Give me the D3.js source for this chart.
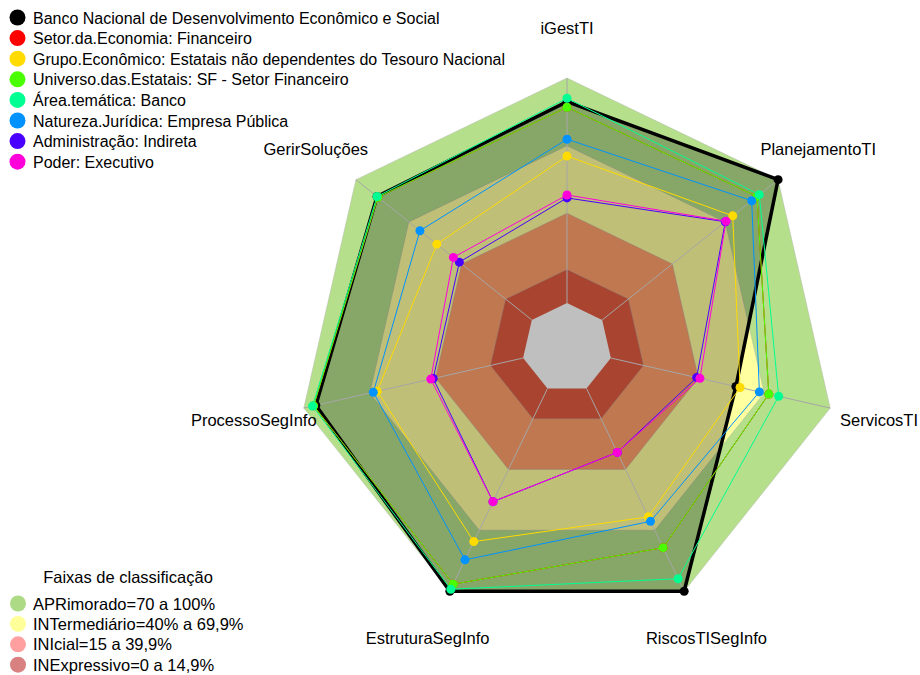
<!DOCTYPE html>
<html>
<head>
<meta charset="utf-8">
<script src="https://cdn.jsdelivr.net/npm/d3@7"></script>
<style>
  body { margin: 0; background: #fff; }
  text { font-family: "Liberation Sans", Arial, sans-serif; }
</style>
</head>
<body>
<div id="chart"></div>
<script>
const axes = ["iGestTI", "PlanejamentoTI", "ServicosTI", "RiscosTISegInfo", "EstruturaSegInfo", "ProcessoSegInfo", "GerirSoluções"];

const seriesNames = [
  "Banco Nacional de Desenvolvimento Econômico e Social",
  "Setor.da.Economia: Financeiro",
  "Grupo.Econômico: Estatais não dependentes do Tesouro Nacional",
  "Universo.das.Estatais: SF - Setor Financeiro",
  "Área.temática: Banco",
  "Natureza.Jurídica: Empresa Pública",
  "Administração: Indireta",
  "Poder: Executivo"
];
const seriesColors = ["#000000", "#FF0000", "#FFDB00", "#49FF00", "#00FF92", "#0092FF", "#4900FF", "#FF00DB"];

const bndes     = [89.5, 100, 57, 100, 100, 94.5, 88];
const setor     = [87, 88, 72, 78.5, 96.5, 95.5, 87.5];
const grupo     = [65.3, 74.2, 58.9, 63.3, 75.5, 66.5, 54];
const universo  = [87, 88, 72, 78.5, 96.5, 95.5, 87.5];
const area      = [91, 89.3, 76.5, 93.8, 99, 96, 88];
const natureza  = [72.8, 85, 67.7, 65.5, 84.5, 68.3, 63.6];
const admin     = [46.7, 70, 39.1, 31.5, 55.8, 41, 41.2];
const poder     = [48, 70.4, 40.6, 31.5, 55.8, 42.1, 44.6];
const seriesValues = [bndes, setor, grupo, universo, area, natureza, admin, poder];

// faixas de classificação
const bandNames = ["APRimorado=70 a 100%", "INTermediário=40% a 69,9%", "INIcial=15 a 39,9%", "INExpressivo=0 a 14,9%"];
const bandUpper = [100, 69.9, 39.9, 14.9];
const bandFill = ["#b5df8b", "#ffffa0", "#ffa06b", "#e05b40"];
const bandLegend = ["#addb85", "#ffff99", "#ff9f9f", "#d98080"];

const W = 920, H = 675;
const cx = 567, cy = 348, R = 270;

const svg = d3.select("#chart").append("svg")
  .attr("width", W).attr("height", H);

const r = d3.scaleLinear().domain([0, 100]).range([R / 6, R]);
const ang = d3.scaleLinear().domain([0, axes.length]).range([0, 2 * Math.PI]);

function pt(v, i) {
  const a = ang(i);
  return [cx + r(v) * Math.sin(a), cy - r(v) * Math.cos(a)];
}
const poly = d3.line().curve(d3.curveLinearClosed);

// bands
bandUpper.forEach((u, k) => {
  svg.append("path")
    .attr("d", poly(axes.map((d, i) => pt(u, i))))
    .attr("fill", bandFill[k])
    .attr("stroke", "#b0b0b0")
    .attr("stroke-opacity", 0.5)
    .attr("stroke-width", 0.8);
});
svg.append("path")
  .attr("d", poly(axes.map((d, i) => pt(0, i))))
  .attr("fill", "#ffffff");

// shaded area of first series
svg.append("path")
  .attr("d", poly(bndes.map((v, i) => pt(v, i))))
  .attr("fill", "rgba(0,0,0,0.25)")
  .attr("stroke", "none");

// axis lines
svg.append("g").selectAll("line")
  .data(axes)
  .enter()
  .append("line")
  .attr("x1", (d, i) => pt(0, i)[0])
  .attr("y1", (d, i) => pt(0, i)[1])
  .attr("x2", (d, i) => pt(100, i)[0])
  .attr("y2", (d, i) => pt(100, i)[1])
  .attr("stroke", "#a6a6a6")
  .attr("stroke-width", 1);

// axis labels
svg.append("g").selectAll("text")
  .data(axes)
  .enter()
  .append("text")
  .attr("x", (d, i) => cx + R * 1.19 * Math.sin(ang(i)))
  .attr("y", (d, i) => cy + 1 - R * 1.19 * Math.cos(ang(i)))
  .attr("text-anchor", "middle")
  .attr("dominant-baseline", "central")
  .style("font-size", "16.5px")
  .style("fill", "#000")
  .text(d => d)
  .each(function() {
    // keep label inside the page
    const b = this.getBBox();
    if (b.x + b.width > W - 2) {
      d3.select(this).attr("x", +d3.select(this).attr("x") - (b.x + b.width - (W - 2)));
    }
  });

// series
seriesValues.forEach((vals, s) => {
  const g = svg.append("g");
  g.append("path")
    .attr("d", poly(vals.map((v, i) => pt(v, i))))
    .attr("fill", "none")
    .attr("stroke", seriesColors[s])
    .attr("stroke-width", s === 0 ? 3.5 : 1);
  g.selectAll("circle")
    .data(vals)
    .enter()
    .append("circle")
    .attr("cx", (v, i) => pt(v, i)[0])
    .attr("cy", (v, i) => pt(v, i)[1])
    .attr("r", 4.5)
    .attr("fill", seriesColors[s]);
});

// legend of series
const leg = svg.append("g");
seriesNames.forEach((n, k) => {
  const y = 17.5 + k * 20.6;
  leg.append("circle").attr("cx", 17.5).attr("cy", y).attr("r", 8).attr("fill", seriesColors[k]);
  leg.append("text").attr("x", 33).attr("y", y + 6).style("font-size", "16px").text(n);
});

// legend of bands
const leg2 = svg.append("g");
leg2.append("text").attr("x", 128).attr("y", 583)
  .attr("text-anchor", "middle")
  .style("font-size", "16.5px")
  .text("Faixas de classificação");
bandNames.forEach((n, k) => {
  const y = 603.5 + k * 20.4;
  leg2.append("circle").attr("cx", 18).attr("cy", y).attr("r", 8).attr("fill", bandLegend[k]);
  leg2.append("text").attr("x", 33).attr("y", y + 6).style("font-size", "16.5px").text(n);
});
</script>
</body>
</html>
